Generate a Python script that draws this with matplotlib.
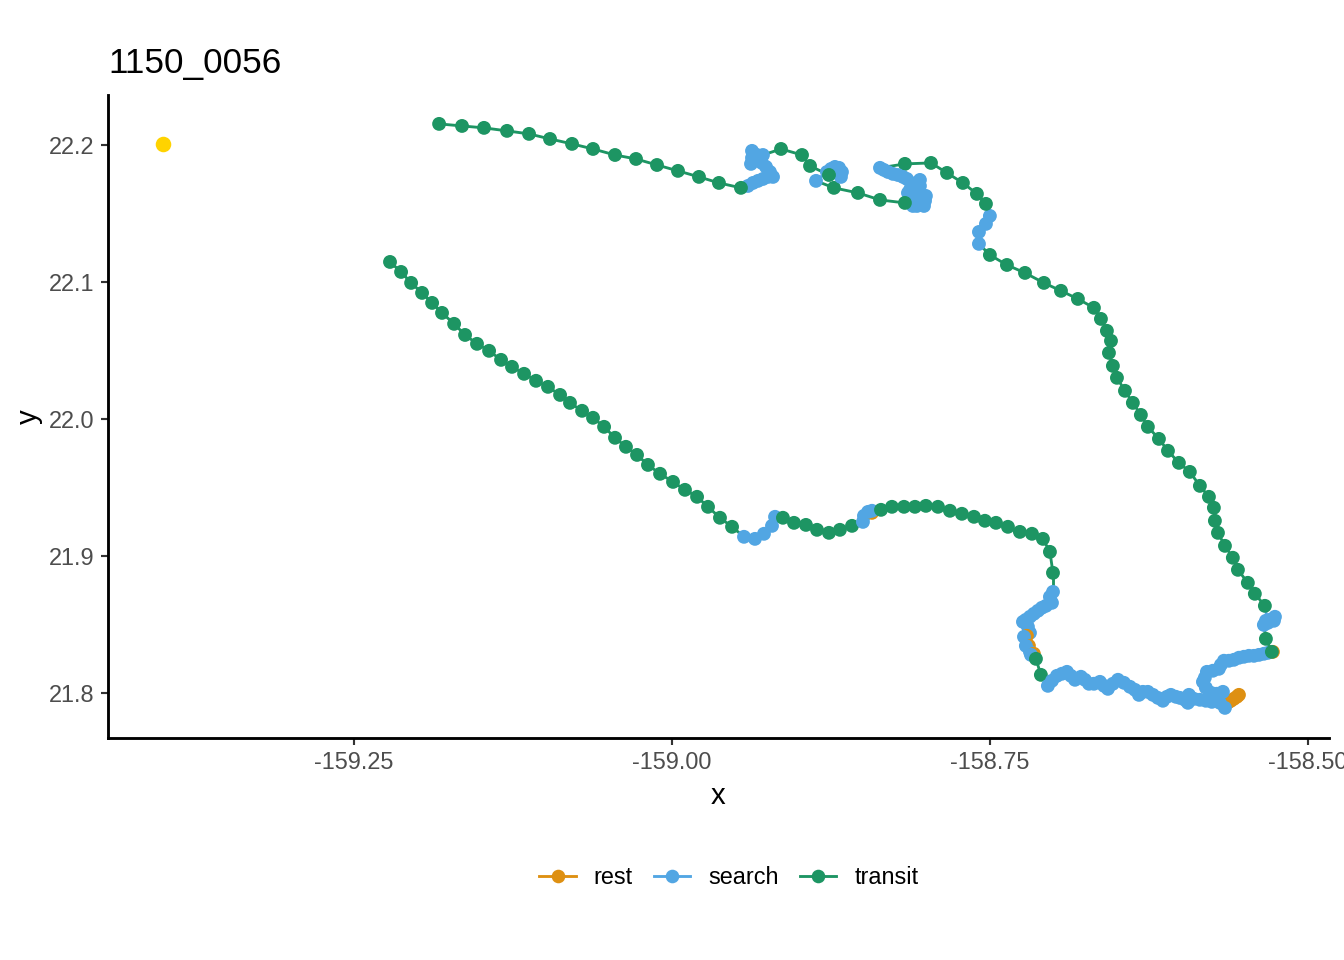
import matplotlib
matplotlib.use("Agg")
from matplotlib import pyplot as plt
from matplotlib.lines import Line2D

plt.rcParams["font.family"] = ["Liberation Sans", "DejaVu Sans"]
plt.rcParams["axes.unicode_minus"] = False

title = "1150_0056"
start_lon = -159.4001
start_lat = 22.2008
state_colors = {"rest": "#DE9012", "search": "#52A6E3", "transit": "#1D9563"}
x_ticks = [-159.25, -159.00, -158.75, -158.50]
x_tick_labels = ["-159.25", "-159.00", "-158.75", "-158.50"]
y_ticks = [21.8, 21.9, 22.0, 22.1, 22.2]
y_tick_labels = ["21.8", "21.9", "22.0", "22.1", "22.2"]

# track legs, in time order: (state, lon, lat)
legs = [
    ("transit",
     [-159.2217, -159.2130, -159.2051, -159.1965, -159.1886, -159.1808, -159.1713, -159.1627, -159.1533, -159.1438,
      -159.1344, -159.1258, -159.1163, -159.1069, -159.0975, -159.0880, -159.0802, -159.0707, -159.0621, -159.0534,
      -159.0448, -159.0362, -159.0275, -159.0189, -159.0094, -158.9992, -158.9898, -158.9803, -158.9717, -158.9623,
      -158.9528],
     [22.1146, 22.1073, 22.0993, 22.0920, 22.0847, 22.0774, 22.0694, 22.0613, 22.0548, 22.0497,
      22.0431, 22.0380, 22.0329, 22.0278, 22.0234, 22.0175, 22.0117, 22.0059, 22.0008, 21.9942,
      21.9862, 21.9796, 21.9737, 21.9664, 21.9599, 21.9540, 21.9482, 21.9431, 21.9358, 21.9278,
      21.9212]),
    ("search",
     [-158.9434, -158.9348, -158.9277, -158.9214, -158.9190],
     [21.9139, 21.9124, 21.9161, 21.9219, 21.9285]),
    ("transit",
     [-158.9128, -158.9041, -158.8947, -158.8860, -158.8766, -158.8680, -158.8585],
     [21.9278, 21.9241, 21.9226, 21.9190, 21.9168, 21.9190, 21.9219]),
    ("search", [-158.8499, -158.8491], [21.9248, 21.9292]),
    ("rest", [-158.8428], [21.9314]),
    ("search", [-158.8459, -158.8428], [21.9321, 21.9329]),
    ("transit",
     [-158.8357, -158.8271, -158.8176, -158.8090, -158.8004, -158.7909, -158.7815, -158.7721, -158.7626, -158.7540,
      -158.7453, -158.7359, -158.7265, -158.7170, -158.7084, -158.7029, -158.7005],
     [21.9336, 21.9358, 21.9358, 21.9358, 21.9365, 21.9358, 21.9329, 21.9307, 21.9285, 21.9256,
      21.9241, 21.9212, 21.9175, 21.9161, 21.9124, 21.9029, 21.8876]),
    ("search",
     [-158.7005, -158.7029, -158.7013, -158.7060, -158.7092, -158.7123, -158.7155, -158.7186, -158.7218, -158.7241,
      -158.7202, -158.7186],
     [21.8737, 21.8701, 21.8657, 21.8635, 21.8621, 21.8599, 21.8577, 21.8555, 21.8533, 21.8518,
      21.8482, 21.8438]),
    ("rest", [-158.7210], [21.8416]),
    ("search", [-158.7233], [21.8409]),
    ("rest", [-158.7194], [21.8343]),
    ("search", [-158.7218, -158.7186], [21.8343, 21.8299]),
    ("rest", [-158.7155], [21.8285]),
    ("search", [-158.7178], [21.8277]),
    ("transit", [-158.7139, -158.7100], [21.8248, 21.8131]),
    ("search",
     [-158.7045, -158.7013, -158.6974, -158.6935, -158.6895, -158.6864, -158.6832, -158.6785, -158.6754, -158.6722,
      -158.6683, -158.6636, -158.6604, -158.6573, -158.6534, -158.6494, -158.6447, -158.6400, -158.6361, -158.6329,
      -158.6298, -158.6259, -158.6219, -158.6180, -158.6141, -158.6109, -158.6078, -158.6039, -158.6007, -158.5968,
      -158.5944, -158.5936, -158.5897, -158.5850, -158.5803, -158.5756],
     [21.8051, 21.8088, 21.8124, 21.8139, 21.8153, 21.8124, 21.8095, 21.8117, 21.8095, 21.8066,
      21.8066, 21.8080, 21.8051, 21.8029, 21.8066, 21.8095, 21.8073, 21.8044, 21.8022, 21.7985,
      21.8007, 21.8007, 21.7985, 21.7963, 21.7942, 21.7971, 21.7985, 21.7971, 21.7963, 21.7949,
      21.7927, 21.7985, 21.7956, 21.7949, 21.7942, 21.7934]),
    ("rest",
     [-158.5638, -158.5622, -158.5606, -158.5583, -158.5559, -158.5543],
     [21.7927, 21.7934, 21.7942, 21.7956, 21.7971, 21.7985]),
    ("search",
     [-158.5653, -158.5693, -158.5669, -158.5716, -158.5763, -158.5803, -158.5826, -158.5811, -158.5795, -158.5748,
      -158.5701, -158.5685, -158.5661, -158.5622, -158.5583, -158.5543, -158.5504, -158.5465, -158.5425, -158.5386,
      -158.5347, -158.5315],
     [21.7890, 21.7927, 21.8007, 21.7993, 21.8000, 21.8037, 21.8080, 21.8110, 21.8153, 21.8161,
      21.8175, 21.8204, 21.8234, 21.8234, 21.8241, 21.8256, 21.8263, 21.8270, 21.8270, 21.8277,
      21.8285, 21.8292]),
    ("rest", [-158.5276], [21.8299]),
    ("transit", [-158.5284, -158.5331], [21.8299, 21.8394]),
    ("search",
     [-158.5347, -158.5331, -158.5300, -158.5260, -158.5268, -158.5315],
     [21.8496, 21.8526, 21.8533, 21.8555, 21.8526, 21.8511]),
    ("transit",
     [-158.5339, -158.5418, -158.5473, -158.5551, -158.5591, -158.5653, -158.5708, -158.5732, -158.5740, -158.5779,
      -158.5850, -158.5929, -158.6015, -158.6101, -158.6172, -158.6259, -158.6314, -158.6377, -158.6439, -158.6502,
      -158.6534, -158.6565, -158.6549, -158.6581, -158.6628, -158.6683, -158.6809, -158.6942, -158.7076, -158.7225,
      -158.7367, -158.7501],
     [21.8635, 21.8723, 21.8803, 21.8898, 21.8986, 21.9073, 21.9168, 21.9256, 21.9351, 21.9431,
      21.9511, 21.9613, 21.9679, 21.9767, 21.9854, 21.9942, 22.0029, 22.0117, 22.0205, 22.0300,
      22.0387, 22.0482, 22.0570, 22.0643, 22.0730, 22.0811, 22.0876, 22.0935, 22.0993, 22.1066,
      22.1124, 22.1197]),
    ("search",
     [-158.7587, -158.7587, -158.7532, -158.7501],
     [22.1278, 22.1365, 22.1424, 22.1482]),
    ("transit",
     [-158.7532, -158.7603, -158.7713, -158.7838, -158.7964, -158.8169],
     [22.1570, 22.1643, 22.1723, 22.1796, 22.1869, 22.1862]),
    ("search",
     [-158.8365, -158.8334, -158.8302, -158.8263, -158.8224, -158.8184, -158.8153, -158.8121, -158.8090, -158.8051,
      -158.8051, -158.8129, -158.8145, -158.8098, -158.8051, -158.8004, -158.8066, -158.8106, -158.8011, -158.8019,
      -158.8074, -158.8106],
     [22.1833, 22.1818, 22.1803, 22.1789, 22.1781, 22.1767, 22.1752, 22.1723, 22.1701, 22.1745,
      22.1701, 22.1672, 22.1650, 22.1657, 22.1657, 22.1628, 22.1614, 22.1577, 22.1592, 22.1555,
      22.1555, 22.1555]),
    ("transit",
     [-158.8169, -158.8365, -158.8538, -158.8727],
     [22.1577, 22.1599, 22.1650, 22.1687]),
    ("search",
     [-158.8868, -158.8782, -158.8750, -158.8719, -158.8687, -158.8664, -158.8672],
     [22.1738, 22.1803, 22.1825, 22.1840, 22.1833, 22.1803, 22.1767]),
    ("transit",
     [-158.8766, -158.8915, -158.8978, -158.9143],
     [22.1781, 22.1847, 22.1927, 22.1971]),
    ("search",
     [-158.9285, -158.9332, -158.9371, -158.9371, -158.9379, -158.9332, -158.9293, -158.9261, -158.9230, -158.9206,
      -158.9245, -158.9285, -158.9324, -158.9363, -158.9403],
     [22.1927, 22.1927, 22.1957, 22.1906, 22.1862, 22.1891, 22.1869, 22.1840, 22.1803, 22.1767,
      22.1767, 22.1752, 22.1738, 22.1723, 22.1701]),
    ("transit",
     [-158.9458, -158.9631, -158.9788, -158.9953, -159.0118, -159.0283, -159.0448, -159.0621, -159.0786, -159.0959,
      -159.1124, -159.1297, -159.1478, -159.1651, -159.1831],
     [22.1687, 22.1723, 22.1767, 22.1811, 22.1854, 22.1898, 22.1927, 22.1971, 22.2008, 22.2044,
      22.2081, 22.2103, 22.2125, 22.2139, 22.2154]),
]

# flatten the legs, every point keeps its state colour
lons = []
lats = []
colors = []
for state, leg_lon, leg_lat in legs:
    lons += leg_lon
    lats += leg_lat
    colors += [state_colors[state]] * len(leg_lon)

fig = plt.figure(figsize=(7, 5), dpi=192)
ax = fig.add_axes([108 / 1344, 222 / 960, 1221 / 1344, 643 / 960])

# path segments first, then the points on top
for i in range(len(lons) - 1):
    ax.plot(lons[i:i + 2], lats[i:i + 2], color=colors[i], linewidth=1.07, solid_capstyle="butt", zorder=2)
ax.scatter(lons, lats, c=colors, s=27, linewidths=0, zorder=3)
ax.scatter([start_lon], [start_lat], color="#FFD300", s=34, linewidths=0, zorder=4)

ax.set_xlim(-159.4434, -158.4835)
ax.set_ylim(21.767, 22.2365)
ax.set_xticks(x_ticks)
ax.set_xticklabels(x_tick_labels, clip_on=False)
ax.set_yticks(y_ticks)
ax.set_yticklabels(y_tick_labels)
ax.tick_params(length=2.75, width=0.8, color="#333333", labelcolor="#4D4D4D", labelsize=8.8, pad=2.2)
ax.spines["top"].set_visible(False)
ax.spines["right"].set_visible(False)
ax.spines["left"].set_linewidth(1.07)
ax.spines["bottom"].set_linewidth(1.07)

ax.set_xlabel("x", fontsize=11, labelpad=3)
ax.set_ylabel("y", fontsize=11, labelpad=2.2)
ax.set_title(title, fontsize=13.2, loc="left", pad=8.2)

handles = [
    Line2D([], [], color=c, linewidth=1.07, marker="o", markersize=5.1, markeredgewidth=0, label=s)
    for s, c in state_colors.items()
]
fig.legend(
    handles=handles,
    loc="center",
    bbox_to_anchor=(729 / 1344, 82 / 960),
    ncol=3,
    frameon=False,
    fontsize=8.8,
    handlelength=1.55,
    handletextpad=0.77,
    columnspacing=0.9,
    borderpad=0,
)

fig.savefig("out.png", dpi=192)
